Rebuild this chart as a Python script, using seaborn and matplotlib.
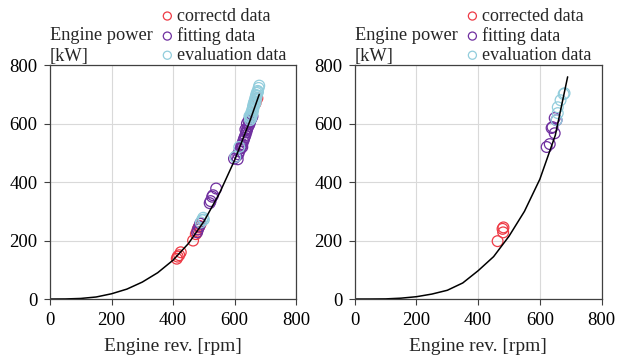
import numpy as np
import matplotlib
matplotlib.use("Agg")
import matplotlib.pyplot as plt
import seaborn as sns
import pandas as pd

sns.set_style("whitegrid", {"axes.edgecolor": "#404040", "grid.color": "#d9d9d9",
                            "xtick.bottom": True, "ytick.left": True})
plt.rcParams['font.family'] = ['Liberation Serif', 'DejaVu Serif']
plt.rcParams['font.size'] = 13

# ---- left panel data ----
curve_l_rpm = [0, 50, 100, 150, 200, 250, 300, 350, 400, 450, 500, 550, 600, 650, 680]
curve_l_kw = [0, 0.3, 2, 7, 18, 34, 58, 90, 133, 190, 265, 360, 475, 610, 700]

corr_l_rpm = [412, 415, 420, 425, 465, 474, 478, 480, 483, 486, 490, 668, 674]
corr_l_kw = [138, 145, 150, 160, 200, 222, 230, 238, 245, 250, 258, 670, 687]

fit_l_rpm = [478, 481, 485, 488, 519, 522, 527, 530, 540,
             598, 605, 610, 612, 615, 620, 622, 625, 628, 632, 635, 638, 640,
             642, 645, 648, 650, 652, 655, 658, 640, 645, 650, 635, 630, 625]
fit_l_kw = [228, 238, 248, 258, 328, 335, 350, 355, 378,
            480, 488, 478, 495, 505, 515, 525, 530, 540, 552, 560, 570, 578,
            585, 592, 598, 605, 612, 618, 625, 600, 610, 620, 580, 545, 520]

eval_l_rpm = [490, 494, 498, 500, 602, 615, 650, 652, 655, 658, 660, 662, 664,
              666, 668, 670, 672, 675, 678, 680, 655, 660, 665, 670, 658, 662,
              668, 672, 676, 650, 654, 648]
eval_l_kw = [262, 270, 278, 272, 486, 520, 620, 630, 640, 650, 660, 668, 675,
             682, 690, 698, 705, 712, 722, 730, 625, 645, 665, 685, 635, 655,
             672, 695, 708, 612, 618, 625]

# ---- right panel data ----
curve_r_rpm = [0, 50, 100, 150, 200, 250, 300, 350, 400, 450, 500, 550, 600, 650, 690]
curve_r_kw = [0, 0.1, 0.5, 3, 8, 17, 30, 55, 97, 145, 215, 300, 410, 560, 760]

corr_r_rpm = [463, 479, 482, 481]
corr_r_kw = [198, 240, 245, 228]

fit_r_rpm = [622, 632, 641, 648, 638, 648, 654]
fit_r_kw = [520, 530, 588, 567, 585, 619, 612]

eval_r_rpm = [654, 658, 658, 667, 677, 680]
eval_r_kw = [612, 636, 656, 680, 701, 704]

RED = "#ee3b46"
PURPLE = "#7030a0"
CYAN = "#92cddc"

fig = plt.figure(figsize=(6.17, 3.56), dpi=100)
ax1 = fig.add_axes([0.081, 0.160, 0.399, 0.657])
ax2 = fig.add_axes([0.575, 0.160, 0.400, 0.657])


def panel(ax, crv, corr, fit, ev, labels):
    sns.lineplot(x=crv[0], y=crv[1], ax=ax, color="black", lw=1.1, sort=False)
    for (xs, ys), c, lab in zip([corr, fit, ev], [RED, PURPLE, CYAN], labels):
        ax.scatter(xs, ys, s=60, facecolors="none", edgecolors=c, linewidths=0.9, label=lab)
    ax.set_xlim(0, 800)
    ax.set_ylim(0, 800)
    ax.set_xticks(range(0, 801, 200))
    ax.set_yticks(range(0, 801, 200))
    ax.tick_params(length=4, width=0.8, colors="#404040", labelcolor="black",
                   labelsize=13.5, pad=5)
    ax.set_xlabel("Engine rev. [rpm]", fontsize=14, labelpad=7)
    ax.set_ylabel("")
    ax.text(0.0, 1.0, "Engine power\n[kW]", transform=ax.transAxes,
            ha="left", va="bottom", fontsize=13.2, linespacing=1.35)
    for s in ax.spines.values():
        s.set_linewidth(0.9)
    ax.legend(loc="lower left", bbox_to_anchor=(0.44, 1.005), frameon=False,
              handletextpad=0.05, borderaxespad=0, labelspacing=0.12,
              markerscale=0.75, fontsize=13, borderpad=0, handlelength=1.0)


panel(ax1, (curve_l_rpm, curve_l_kw), (corr_l_rpm, corr_l_kw),
      (fit_l_rpm, fit_l_kw), (eval_l_rpm, eval_l_kw),
      ["correctd data", "fitting data", "evaluation data"])
panel(ax2, (curve_r_rpm, curve_r_kw), (corr_r_rpm, corr_r_kw),
      (fit_r_rpm, fit_r_kw), (eval_r_rpm, eval_r_kw),
      ["corrected data", "fitting data", "evaluation data"])

fig.savefig("out.png", dpi=100)
